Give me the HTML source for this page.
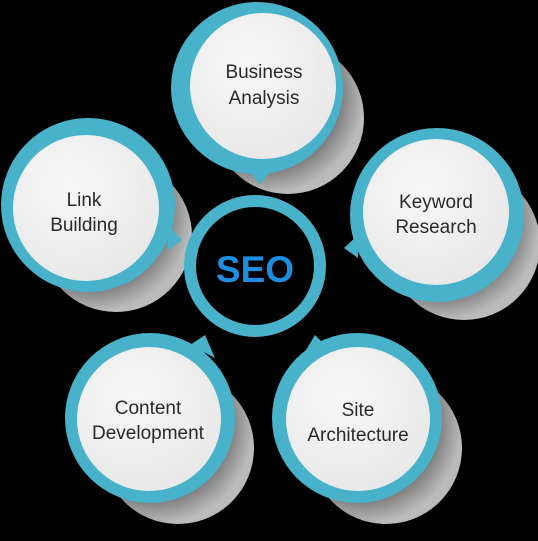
<!DOCTYPE html>
<html><head><style>html,body{margin:0;padding:0;background:#000;width:538px;height:541px;overflow:hidden}</style></head>
<body>
<svg width="538" height="541" viewBox="0 0 538 541" xmlns="http://www.w3.org/2000/svg" font-family="Liberation Sans, sans-serif">
<defs>
<radialGradient id="sh" cx="0.35" cy="0.35" r="0.65">
<stop offset="0" stop-color="#111"/><stop offset="0.6" stop-color="#555"/><stop offset="1" stop-color="#bbb"/>
</radialGradient>
<radialGradient id="wh" cx="0.4" cy="0.35" r="0.7">
<stop offset="0" stop-color="#f7f7f7"/><stop offset="1" stop-color="#e8e8e8"/>
</radialGradient>
</defs>
<g>
<circle cx="288" cy="118" r="76" fill="url(#sh)"/>
<circle cx="116" cy="236" r="76" fill="url(#sh)"/>
<circle cx="464" cy="244" r="76" fill="url(#sh)"/>
<circle cx="178" cy="448" r="76" fill="url(#sh)"/>
<circle cx="386" cy="448" r="76" fill="url(#sh)"/>
</g>
<g fill="#48b2cb">
<circle cx="257" cy="88" r="86"/><polygon points="248,170 272,170 260,184"/>
<circle cx="88" cy="205" r="87"/><polygon points="168,225 168,250 182,240"/>
<circle cx="437" cy="215" r="87"/><polygon points="358,235 358,258 344,248"/>
<circle cx="150" cy="418" r="85"/><polygon points="190,345 215,358 205,335"/>
<circle cx="357" cy="418" r="85"/><polygon points="315,335 300,360 325,345"/>
</g>
<g fill="url(#wh)">
<circle cx="263" cy="86" r="73"/>
<circle cx="86" cy="208" r="73"/>
<circle cx="436" cy="212" r="73"/>
<circle cx="149" cy="419" r="72"/>
<circle cx="358" cy="419" r="72"/>
</g>
<circle cx="255" cy="266" r="65" fill="none" stroke="#48b2cb" stroke-width="12"/>
<text x="255" y="282" text-anchor="middle" font-size="37" font-weight="bold" fill="#1e8fe0">SEO</text>
<g font-size="19" fill="#2a2a2a" text-anchor="middle">
<text x="264" y="78">Business</text><text x="264" y="104">Analysis</text>
<text x="84" y="206">Link</text><text x="84" y="231">Building</text>
<text x="436" y="208">Keyword</text><text x="436" y="233">Research</text>
<text x="148" y="414">Content</text><text x="148" y="439">Development</text>
<text x="358" y="416">Site</text><text x="358" y="441">Architecture</text>
</g>
</svg>
</body></html>
